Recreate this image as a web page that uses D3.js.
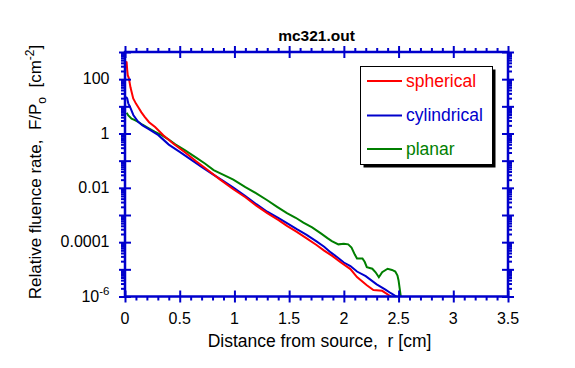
<!DOCTYPE html>
<html><head><meta charset="utf-8">
<script src="https://cdn.jsdelivr.net/npm/d3@7"></script>
<style>
body{margin:0;background:#fff}
svg{display:block}
text{font-family:"Liberation Sans",Arial,Helvetica,sans-serif;white-space:pre}
</style>
</head><body>
<svg id="c" width="575" height="368"></svg>
<script>
// ---- data ----
const rSpherical=[0.01,0.015,0.02,0.025,0.035,0.05,0.075,0.1,0.12,0.15,0.18,0.22,0.275,0.35,0.44,0.55,0.65,0.75,0.87,0.99,1.1,1.2,1.3,1.4,1.48,1.57,1.66,1.75,1.82,1.9,1.97,2.06,2.12,2.21,2.27,2.35,2.43];
const fSpherical=[450,420,220,140,110,50,19.5,12.6,9.5,6.0,4.1,2.6,1.74,0.87,0.43,0.20,0.095,0.047,0.020,8.9e-3,4.5e-3,2.2e-3,1.17e-3,6.6e-4,4.0e-4,2.4e-4,1.38e-4,7.9e-5,4.9e-5,3.0e-5,1.82e-5,1.02e-5,5.2e-6,2.6e-6,1.74e-6,1.62e-6,1.0e-6];

const rCylindrical=[0.009,0.02,0.03,0.046,0.076,0.12,0.16,0.21,0.305,0.40,0.5,0.6,0.7,0.8,0.9,0.99,1.1,1.2,1.3,1.4,1.48,1.57,1.66,1.75,1.82,1.88,1.94,2.0,2.06,2.12,2.2,2.3,2.38,2.43,2.48];
const fCylindrical=[22.4,19.5,12.9,9.5,4.8,2.7,2.0,1.51,0.87,0.39,0.21,0.112,0.059,0.032,0.0178,0.0102,5.0e-3,2.5e-3,1.32e-3,7.9e-4,5.0e-4,3.0e-4,1.86e-4,1.07e-4,6.8e-5,4.2e-5,2.8e-5,1.78e-5,1.32e-5,8.3e-6,5.6e-6,2.8e-6,1.78e-6,1.32e-6,1.0e-6];

const rPlanar=[0.015,0.03,0.06,0.09,0.12,0.16,0.21,0.27,0.335,0.40,0.46,0.55,0.65,0.73,0.81,0.9,0.99,1.1,1.2,1.3,1.39,1.48,1.56,1.63,1.71,1.79,1.85,1.89,1.95,2.0,2.04,2.07,2.10,2.12,2.17,2.19,2.21,2.26,2.29,2.32,2.35,2.40,2.44,2.47,2.49,2.50,2.51,2.52];
const fPlanar=[5.8,4.6,3.5,3.1,2.7,2.1,1.62,1.17,0.87,0.60,0.40,0.24,0.13,0.079,0.045,0.030,0.020,0.0107,6.3e-3,3.5e-3,2.0e-3,1.17e-3,7.9e-4,5.2e-4,3.5e-4,2.1e-4,1.41e-4,1.10e-4,8.3e-5,8.7e-5,8.3e-5,6.3e-5,3.5e-5,2.5e-5,2.5e-5,1.9e-5,1.2e-5,1.05e-5,7.8e-6,5.1e-6,7.8e-6,1.05e-5,9.5e-6,8.3e-6,5.9e-6,3.9e-6,2.0e-6,1.0e-6];

const seriesNames=["spherical","cylindrical","planar"];
const seriesColors=["#ff0000","#0000cc","#007f00"];

const xTickValues=[0,0.5,1,1.5,2,2.5,3,3.5];
const xTickLabels=["0","0.5","1","1.5","2","2.5","3","3.5"];
const yLabelValues=[1e2,1,1e-2,1e-4,1e-6];
const yTickLabels=["100","1","0.01","0.0001","10|-6"];

const chartTitle="mc321.out";
const xTitle="Distance from source,  r [cm]";

// ---- layout ----
const svg=d3.select("#c");
const L=125,R=508,T=52,B=296.5;
const axisColor="#0000cc";
const x=d3.scaleLinear().domain([0,3.5]).range([L,R]);
const y=d3.scaleLog().domain([1e-6,1e3]).range([B,T]);

const xMinor=d3.range(0,3.5001,0.1).map(v=>+v.toFixed(2)).filter(v=>Math.abs(v*2-Math.round(v*2))>1e-6);
const yMajor=d3.range(-6,4).map(e=>Math.pow(10,e));
const yMinor=[];
for(let e=-6;e<3;e++){for(let k=2;k<=9;k++)yMinor.push(k*Math.pow(10,e));}

// curves
const line=d3.line().x(d=>x(d[0])).y(d=>y(d[1]));
const rArr=[rSpherical,rCylindrical,rPlanar];
const fArr=[fSpherical,fCylindrical,fPlanar];
const plot=svg.append("g");
[2,1,0].forEach(i=>{
  const pts=rArr[i].map((r,j)=>[r,fArr[i][j]]);
  plot.append("path").attr("d",line(pts)).attr("fill","none")
    .attr("stroke",seriesColors[i]).attr("stroke-width",2).attr("stroke-linejoin","miter");
});

function styleAxis(g){
  g.select(".domain").remove();
  g.selectAll("line").attr("stroke",axisColor).attr("stroke-width",2);
  g.selectAll("text").remove();
}
// bottom
svg.append("g").attr("transform",`translate(0,${B})`).call(d3.axisBottom(x).tickValues(xTickValues).tickSize(6)).call(styleAxis);
svg.append("g").attr("transform",`translate(0,${B})`).call(d3.axisTop(x).tickValues(xTickValues).tickSize(6)).call(styleAxis);
svg.append("g").attr("transform",`translate(0,${B})`).call(d3.axisBottom(x).tickValues(xMinor).tickSize(4)).call(styleAxis);
// top
svg.append("g").attr("transform",`translate(0,${T})`).call(d3.axisBottom(x).tickValues(xTickValues).tickSize(6)).call(styleAxis);
svg.append("g").attr("transform",`translate(0,${T})`).call(d3.axisTop(x).tickValues(xTickValues).tickSize(6)).call(styleAxis);
svg.append("g").attr("transform",`translate(0,${T})`).call(d3.axisTop(x).tickValues(xMinor).tickSize(4)).call(styleAxis);
// left
svg.append("g").attr("transform",`translate(${L},0)`).call(d3.axisLeft(y).tickValues(yMajor).tickSize(6)).call(styleAxis);
svg.append("g").attr("transform",`translate(${L},0)`).call(d3.axisRight(y).tickValues(yMajor).tickSize(6)).call(styleAxis);
svg.append("g").attr("transform",`translate(${L},0)`).call(d3.axisLeft(y).tickValues(yMinor).tickSize(4)).call(styleAxis);
// right
svg.append("g").attr("transform",`translate(${R},0)`).call(d3.axisLeft(y).tickValues(yMajor).tickSize(6)).call(styleAxis);
svg.append("g").attr("transform",`translate(${R},0)`).call(d3.axisRight(y).tickValues(yMajor).tickSize(6)).call(styleAxis);
svg.append("g").attr("transform",`translate(${R},0)`).call(d3.axisRight(y).tickValues(yMinor).tickSize(4)).call(styleAxis);

// frame
svg.append("rect").attr("x",L).attr("y",T).attr("width",R-L).attr("height",B-T)
  .attr("fill","none").attr("stroke",axisColor).attr("stroke-width",2.5);

// x tick labels
svg.append("g").selectAll("text").data(xTickValues).join("text")
  .attr("x",d=>x(d)).attr("y",324).attr("text-anchor","middle")
  .attr("font-size",16).attr("fill","#000").text((d,i)=>xTickLabels[i]);

// y tick labels
const yl=svg.append("g");
yLabelValues.forEach((v,i)=>{
  const lab=yTickLabels[i];
  const t=yl.append("text").attr("x",109.5).attr("y",y(v)+5).attr("text-anchor","end")
    .attr("font-size",16).attr("fill","#000");
  if(lab.includes("|")){
    const [base,sup]=lab.split("|");
    t.append("tspan").text(base);
    t.append("tspan").attr("font-size",11.5).attr("dy",-6.5).text(sup);
  } else t.text(lab);
});

// title
svg.append("text").attr("x",(L+R)/2).attr("y",41).attr("text-anchor","middle")
  .attr("font-size",15.5).attr("font-weight","bold").text(chartTitle);

// x title
svg.append("text").attr("x",319.5).attr("y",346.5).attr("text-anchor","middle")
  .attr("font-size",17.5).text(xTitle);

// y title (rotated)
const yt=svg.append("text").attr("transform","translate(41,172) rotate(-90)")
  .attr("text-anchor","middle").attr("font-size",17);
yt.append("tspan").text("Relative fluence rate,  F/P");
yt.append("tspan").attr("font-size",12).attr("dy",5).text("o");
yt.append("tspan").attr("dy",-5).text("  [cm");
yt.append("tspan").attr("font-size",12).attr("dy",-7).text("-2");
yt.append("tspan").attr("dy",7).text("]");

// legend
const lg=svg.append("g");
const lx=360.5,ly=66.5,lw=132,lh=98;
lg.append("rect").attr("x",lx+3).attr("y",ly+3).attr("width",lw).attr("height",lh).attr("fill","#000");
lg.append("rect").attr("x",lx).attr("y",ly).attr("width",lw).attr("height",lh).attr("fill","#fff").attr("stroke","#000").attr("stroke-width",1);
const rowY=[81,115.5,149];
seriesNames.forEach((n,i)=>{
  lg.append("line").attr("x1",367).attr("x2",402).attr("y1",rowY[i]).attr("y2",rowY[i])
    .attr("stroke",seriesColors[i]).attr("stroke-width",2);
  lg.append("text").attr("x",406).attr("y",rowY[i]+5.5).attr("font-size",17.5)
    .attr("fill",seriesColors[i]).text(n);
});
</script>
</body></html>
